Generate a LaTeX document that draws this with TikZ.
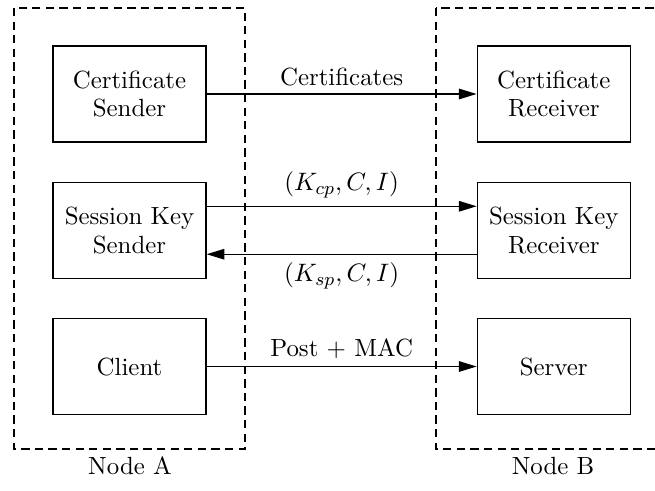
\documentclass[tikz,border=0pt]{standalone}
\usetikzlibrary{positioning,arrows.meta}
\tikzset{every node/.append style={font=\fontsize{10.8}{12.4}\selectfont},
  block/.style={draw, minimum width=2.336cm, minimum height=1.466cm, align=center, inner sep=0pt},
  msg/.style={-{Triangle[length=2.7mm, width=1.6mm]}},
  host/.style={draw, dash pattern=on 3.6pt off 2.3pt}}

\begin{document}
\begin{tikzpicture}[node distance=0.595cm and 4.122cm, line width=0.55pt]
    \useasboundingbox (0,0) rectangle (10,-7.496);
    \node[block] (cs) at (1.977,-1.435) {Certificate\\Sender};
    \node[block, below=of cs] (sks) {Session Key\\Sender};
    \node[block, below=of sks] (cl) {Client};
    \node[block, right=of cs] (cr) {Certificate\\Receiver};
    \node[block, right=of sks] (skr) {Session Key\\Receiver};
    \node[block, right=of cl] (sv) {Server};
    % dashed frames round the two hosts
    \draw[host] (0.214,-0.122) rectangle (3.740,-6.855);
    \draw[host] (6.656,-0.122) rectangle (10.5,-6.855);
    \node (na) at (1.985,-7.114) {Node A};
    \node (nb) at (8.443,-7.114) {Node B};
    \draw[msg] (cs) -- node[above] {Certificates} (cr);
    \draw[msg] ([yshift=0.366cm]sks.east) -- node[above] {$(K_{cp},C,I)$} ([yshift=0.366cm]skr.west);
    \draw[msg] ([yshift=-0.366cm]skr.west) -- node[below] {$(K_{sp},C,I)$} ([yshift=-0.366cm]sks.east);
    \draw[msg] (cl) -- node[above] {Post + MAC} (sv);
\end{tikzpicture}
\end{document}
